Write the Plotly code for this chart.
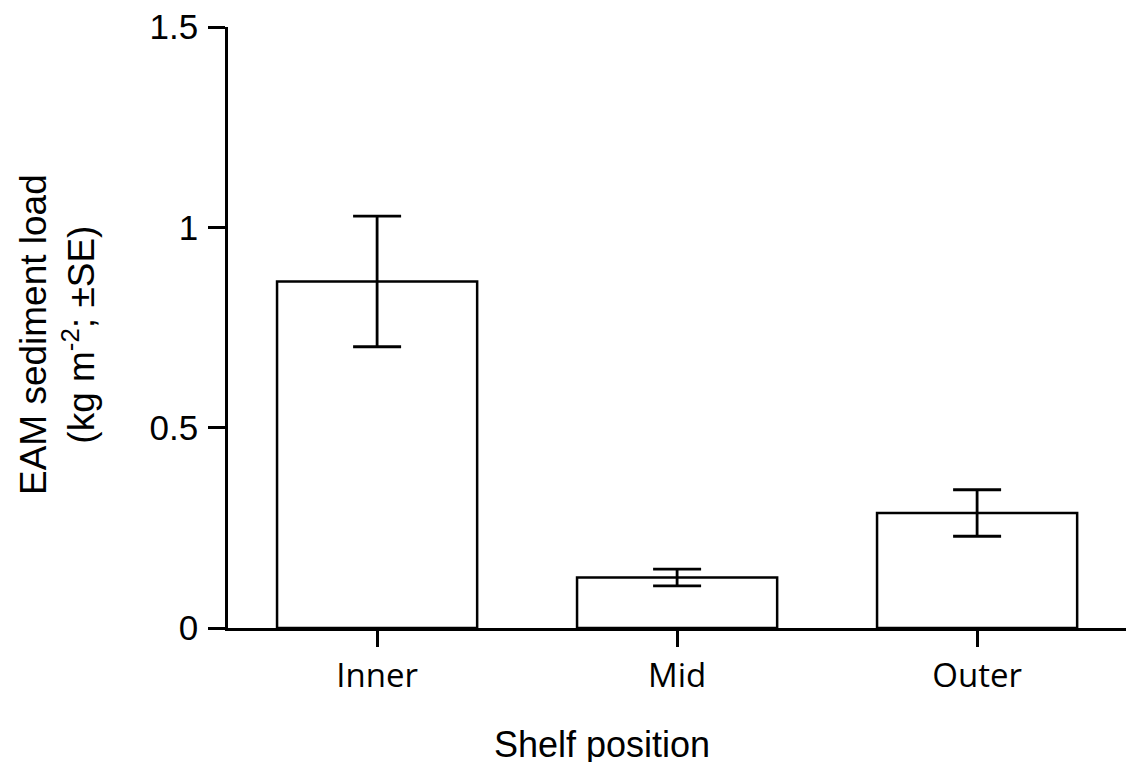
import plotly.graph_objects as go

categories = ["Inner", "Mid", "Outer"]
means = [0.865, 0.126, 0.287]
se = [0.163, 0.021, 0.058]
y_tick_vals = [0, 0.5, 1, 1.5]
y_tick_text = ["0", "0.5", "1", "1.5"]

fig = go.Figure()
fig.add_trace(go.Bar(
    x=list(range(len(categories))),
    y=means,
    width=0.667,
    marker=dict(color="white", line=dict(color="black", width=2.5)),
    error_y=dict(type="data", array=se, visible=True, color="black",
                 thickness=2.8, width=24),
    showlegend=False,
))

fig.update_layout(
    width=1134, height=762,
    margin=dict(l=220, r=8, t=19, b=142, autoexpand=False),
    paper_bgcolor="white", plot_bgcolor="white",
    xaxis=dict(
        range=[-0.497, 2.523],
        tickvals=list(range(len(categories))),
        ticktext=categories,
        showline=True, linecolor="black", linewidth=2.8,
        ticks="outside", ticklen=16, tickwidth=2.5, tickcolor="black",
        tickfont=dict(family="Open Sans", size=33, color="black"),
        showgrid=False, zeroline=False, automargin=False,
    ),
    yaxis=dict(
        range=[0, 1.5],
        tickvals=y_tick_vals,
        ticktext=y_tick_text,
        showline=True, linecolor="black", linewidth=2.8,
        ticks="outside", ticklen=17, tickwidth=2.5, tickcolor="black",
        tickfont=dict(family="Liberation Sans, Arial", size=35, color="black"),
        ticklabelstandoff=3,
        ticklabeloverflow="allow",
        showgrid=False, zeroline=False, automargin=False,
    ),
    annotations=[
        dict(text="Shelf position", xref="paper", yref="paper",
             x=0.4128, y=0, xanchor="center", yanchor="top", yshift=-94,
             showarrow=False,
             font=dict(family="Liberation Sans, Arial", size=36, color="black")),
        dict(text="EAM sediment load<br>(kg m<sup>-2</sup>; ±SE)",
             xref="paper", yref="paper", x=-0.1887, y=0.4875,
             xanchor="center", yanchor="middle", textangle=-90,
             showarrow=False,
             font=dict(family="Liberation Sans, Arial", size=37, color="black")),
    ],
)

fig.write_html("out.html")
